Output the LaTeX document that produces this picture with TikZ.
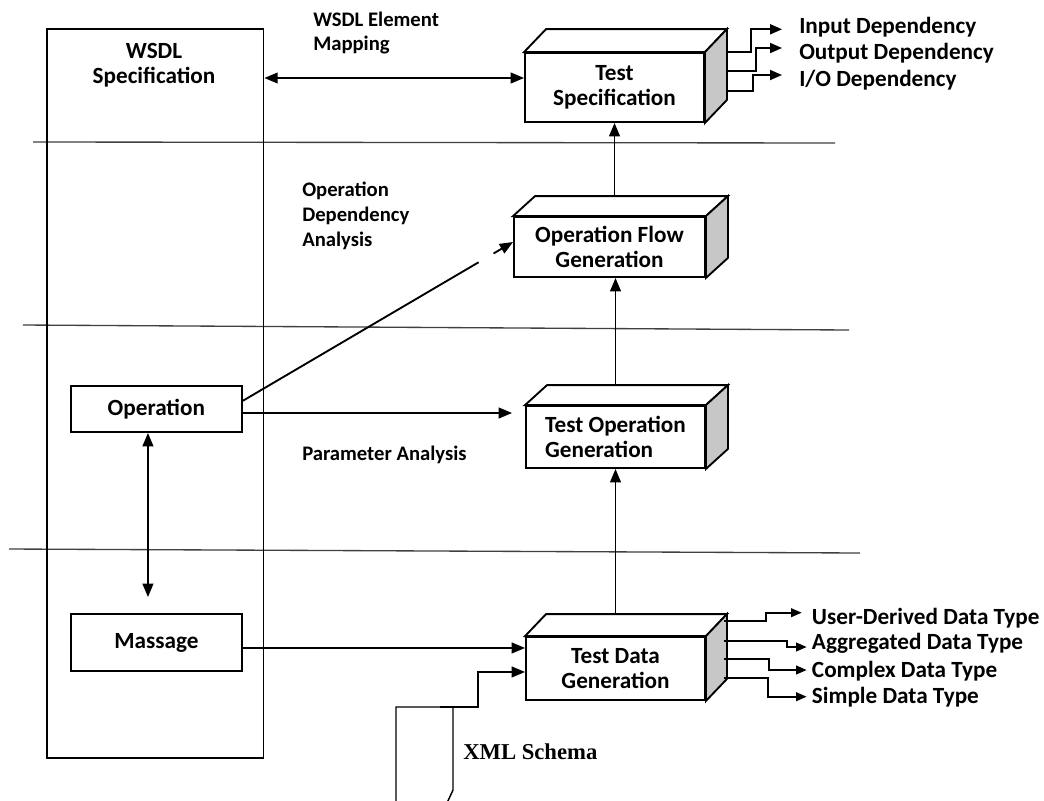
\documentclass[tikz,border=0pt]{standalone}
\usepackage{fontspec}
\setmainfont{Carlito}
\newfontfamily\xmlfont{Liberation Serif}
\usetikzlibrary{arrows.meta,calc}
\newcommand{\drawcube}[3]{%
  \draw[ln, fill=white] (#1.north west) -- ([shift={(#2,-#3)}]#1.north west) -- ([shift={(#2,-#3)}]#1.north east) -- (#1.north east) -- cycle;
  \draw[ln, fill=black!22] (#1.north east) -- ([shift={(#2,-#3)}]#1.north east) -- ([shift={(#2,-#3)}]#1.south east) -- (#1.south east) -- cycle;
}
\tikzset{
  ln/.style={line width=1.4pt, draw=black, line join=miter},
  sep/.style={line width=1pt, draw=black!75},
  arr/.style={ln, -{Triangle[length=10pt,width=8pt]}},
  darr/.style={ln, {Triangle[length=10pt,width=8pt]}-{Triangle[length=10pt,width=8pt]}},
  sarr/.style={ln, -{Triangle[length=9pt,width=7.5pt]}},
  tarr/.style={ln, -{Triangle[length=8pt,width=6.5pt]}},
  txt/.style={font=\bfseries\fontsize{15.5}{18.5}\selectfont},
  btxt/.style={font=\bfseries\fontsize{17.4}{18.8}\selectfont},
  boxn/.style={btxt, rectangle, draw, line width=1.4pt, fill=white, inner sep=0pt, align=center},
  lbl/.style={txt, inner sep=0pt, anchor=west, align=left},
  olbl/.style={btxt, inner sep=0pt, anchor=west, align=left},
}
\begin{document}
\begin{tikzpicture}[x=0.75pt,y=-0.75pt]
\useasboundingbox (0,0) rectangle (1044,800);
\fill[white] (0,0) rectangle (1044,800);

% separator lines
\draw[sep] (33,142) -- (835,143);
\draw[sep] (23,325) -- (849,330);
\draw[sep] (9,549) -- (860,553);

% WSDL box
\node[rectangle, draw, line width=1.4pt, minimum width=162.6pt, minimum height=546.75pt, anchor=north west, inner sep=0pt] (wsdl) at (45.7,28) {};
\node[btxt, align=center] (wsdltxt) at (154,65) {WSDL\\Specification};

\node[boxn, minimum width=128.5pt, minimum height=34.5pt] (op) at (156.35,409) {Operation};
\node[boxn, minimum width=128.5pt, minimum height=42.75pt] (ms) at (156.35,642.5) {Massage};

% cubes
\node[boxn, minimum width=134.25pt, minimum height=51.75pt] (ts) at (614.5,87.5) {Test\\Specification};
\drawcube{ts}{22}{23}
\node[boxn, minimum width=143.25pt, minimum height=45pt] (of) at (609.5,247) {Operation Flow\\Generation};
\drawcube{of}{22}{20}
\node[boxn, minimum width=134.25pt, minimum height=46.5pt, align=left] (to) at (615.5,437) {Test Operation\\Generation};
\drawcube{to}{22}{20}
\node[boxn, minimum width=134.25pt, minimum height=47.25pt] (td) at (615.5,668.5) {Test Data\\Generation};
\drawcube{td}{21}{22}

% labels
\node[lbl] (wem) at (313,33) {WSDL Element\\Mapping};
\node[lbl] (oda) at (302,216) {Operation\\Dependency\\Analysis};
\node[lbl] (pa) at (302,455) {Parameter Analysis};
\node[olbl] (dep1) at (799,27.3) {Input Dependency};
\node[olbl] (dep2) at (799,53) {Output Dependency};
\node[olbl] (dep3) at (799,80) {I/O Dependency};
\node[olbl] (dt1) at (811.7,617.7) {User-Derived Data Type};
\node[olbl] (dt2) at (811.7,643) {Aggregated Data Type};
\node[olbl] (dt3) at (811.7,671) {Complex Data Type};
\node[olbl] (dt4) at (811.7,696.7) {Simple Data Type};
\node[anchor=west, inner sep=0pt, font=\xmlfont\bfseries\fontsize{17}{20}\selectfont] (xmllbl) at (463,752) {XML Schema};

% XML schema document
\draw[line width=1.1pt] (396,805) -- (396,707) -- (453,707) -- (453,790) -- (447,803);
\coordinate (xmltop) at (440,707);

% connectors
\path (wsdl.north east) ++(0,50) coordinate (wm);
\draw[darr] (wm) -- (wm -| ts.west);
\draw[arr] ([yshift=15pt]of.north -| ts.south) -- (ts.south);
\draw[arr] ([yshift=15.4pt]to.north) -- (to.north |- of.south);
\draw[arr] ([yshift=16.5pt]td.north -| to.south) -- (to.south);
\draw[arr, dash pattern=on 205pt off 13pt on 300pt] ([yshift=6.2pt]op.east) -- ([yshift=3.75pt]of.west);
\draw[arr, shorten >=9.75pt] ([yshift=-3pt]op.east) -- ([yshift=-3pt]op.east -| to.west);
\draw[darr, shorten >=12pt] ([xshift=-6.3pt]op.south) -- ([xshift=-6.3pt]ms.north);
\draw[arr] ([yshift=-4.1pt]ms.east) -- ([yshift=-4.1pt]ms.east -| td.west);
\draw[arr] (xmltop) -- ++(38,0) |- ([yshift=-2.6pt]td.west);

% dependency outputs
\draw[sarr] ([shift={(21,0)}]ts.north east) -- ++(25,0) |- ([shift={(-17,2)}]dep1.west);
\draw[sarr] ([shift={(21,19)}]ts.north east) -- ++(30,0) |- ([shift={(-17,-5)}]dep2.west);
\draw[sarr] ([shift={(21,39)}]ts.north east) -- ++(27,0) |- ([shift={(-17,-5)}]dep3.west);

% data type outputs
\draw[tarr] ([shift={(18,-15)}]td.north east) -- ++(42,0) |- ([shift={(-10,-5)}]dt1.west);
\draw[tarr] ([shift={(18,5)}]td.north east) -- ++(63,0) |- ([shift={(-5,4)}]dt2.west);
\draw[tarr] ([shift={(18,23)}]td.north east) -- ++(45,0) |- ([shift={(-5,-1)}]dt3.west);
\draw[tarr] ([shift={(18,42)}]td.north east) -- ++(44,0) |- ([shift={(-5,0)}]dt4.west);
\end{tikzpicture}
\end{document}
